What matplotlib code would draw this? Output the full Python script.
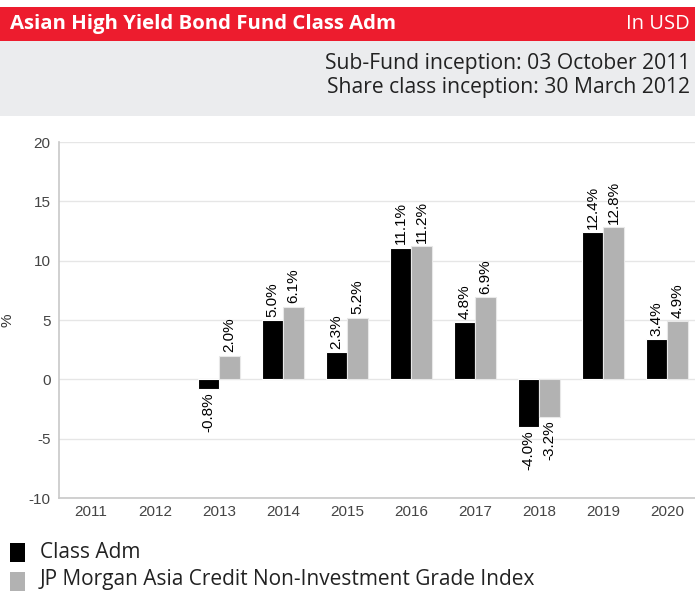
import matplotlib
matplotlib.use("Agg")
import matplotlib.pyplot as plt
from matplotlib.patches import Rectangle
import numpy as np

years = ["2011", "2012", "2013", "2014", "2015", "2016", "2017", "2018", "2019", "2020"]
class_adm = [np.nan, np.nan, -0.8, 5.0, 2.3, 11.1, 4.8, -4.0, 12.4, 3.4]
index_vals = [np.nan, np.nan, 2.0, 6.1, 5.2, 11.2, 6.9, -3.2, 12.8, 4.9]
series_names = ["Class Adm", "JP Morgan Asia Credit Non-Investment Grade Index"]
yticks = [-10, -5, 0, 5, 10, 15, 20]

W, H = 695, 592
fig = plt.figure(figsize=(W / 100, H / 100), dpi=100)
fig.patch.set_facecolor("white")

def fx(px):
    return px / W

def fy(py):
    return 1 - py / H

# header bands
fig.patches.append(Rectangle((0, fy(41)), 1, (41 - 7) / H, transform=fig.transFigure,
                             facecolor="#ed1c2e", edgecolor="none", zorder=0))
fig.patches.append(Rectangle((0, fy(116)), 1, (116 - 41) / H, transform=fig.transFigure,
                             facecolor="#ebecee", edgecolor="none", zorder=0))
fig.text(fx(10), fy(24), "Asian High Yield Bond Fund Class Adm", color="white",
         fontsize=14.7, fontweight="bold", family="Open Sans", ha="left", va="center")
fig.text(fx(690), fy(24), "In USD", color="white", fontsize=14.5, family="Open Sans",
         ha="right", va="center")
fig.text(fx(690), fy(64), "Sub-Fund inception: 03 October 2011", color="#222222",
         fontsize=15.2, family="Open Sans", ha="right", va="center")
fig.text(fx(690), fy(88), "Share class inception: 30 March 2012", color="#222222",
         fontsize=15.2, family="Open Sans", ha="right", va="center")

# axes
ax = fig.add_axes([fx(59), fy(498), 640 / W, 356 / H])
x = np.arange(len(years))
bw = 0.33
ax.bar(x - bw / 2, class_adm, bw, color="black", edgecolor="white", linewidth=0.8,
       label=series_names[0], zorder=3)
ax.bar(x + bw / 2, index_vals, bw, color="#b2b2b2", edgecolor="#e8e8e8", linewidth=0.8,
       label=series_names[1], zorder=3)

for xs, vals in ((x - bw / 2, class_adm), (x + bw / 2, index_vals)):
    for xi, v in zip(xs, vals):
        if np.isnan(v):
            continue
        if v >= 0:
            ax.annotate(f"{v:.1f}%", (xi, v), xytext=(0, 2.5), textcoords="offset points",
                        rotation=90, ha="center", va="bottom", fontsize=11,
                        family="Liberation Sans", color="black")
        else:
            ax.annotate(f"{v:.1f}%", (xi, v), xytext=(0, -2.5), textcoords="offset points",
                        rotation=90, ha="center", va="top", fontsize=11,
                        family="Liberation Sans", color="black")

ax.set_xlim(-0.5, len(years) - 0.5)
ax.set_ylim(-10, 20)
ax.set_yticks(yticks)
ax.set_yticklabels([str(t) for t in yticks], family="Liberation Sans", fontsize=11, color="#444444")
ax.set_xticks(x)
ax.set_xticklabels(years, family="Liberation Sans", fontsize=11, color="#444444")
ax.tick_params(axis="y", length=0, pad=6)
ax.tick_params(axis="x", length=0, pad=5)
ax.grid(axis="y", color="#e6e6e6", linewidth=1, zorder=0)
ax.set_axisbelow(True)
for s in ("top", "right"):
    ax.spines[s].set_visible(False)
for s in ("left", "bottom"):
    ax.spines[s].set_color("#c8c8c8")
    ax.spines[s].set_linewidth(1.2)

fig.text(fx(8), fy(320), "%", rotation=90, ha="center", va="center", fontsize=11,
         family="Liberation Sans", color="#333333")

# legend
fig.patches.append(Rectangle((fx(10), fy(562)), 15 / W, 19 / H, transform=fig.transFigure,
                             facecolor="black", edgecolor="none"))
fig.patches.append(Rectangle((fx(10), fy(591)), 15 / W, 19 / H, transform=fig.transFigure,
                             facecolor="#b2b2b2", edgecolor="none"))
fig.text(fx(40), fy(553), series_names[0], fontsize=15, family="Open Sans",
         color="#222222", ha="left", va="center")
fig.text(fx(40), fy(580), series_names[1], fontsize=15, family="Open Sans",
         color="#222222", ha="left", va="center")

fig.savefig("out.png", dpi=100)
